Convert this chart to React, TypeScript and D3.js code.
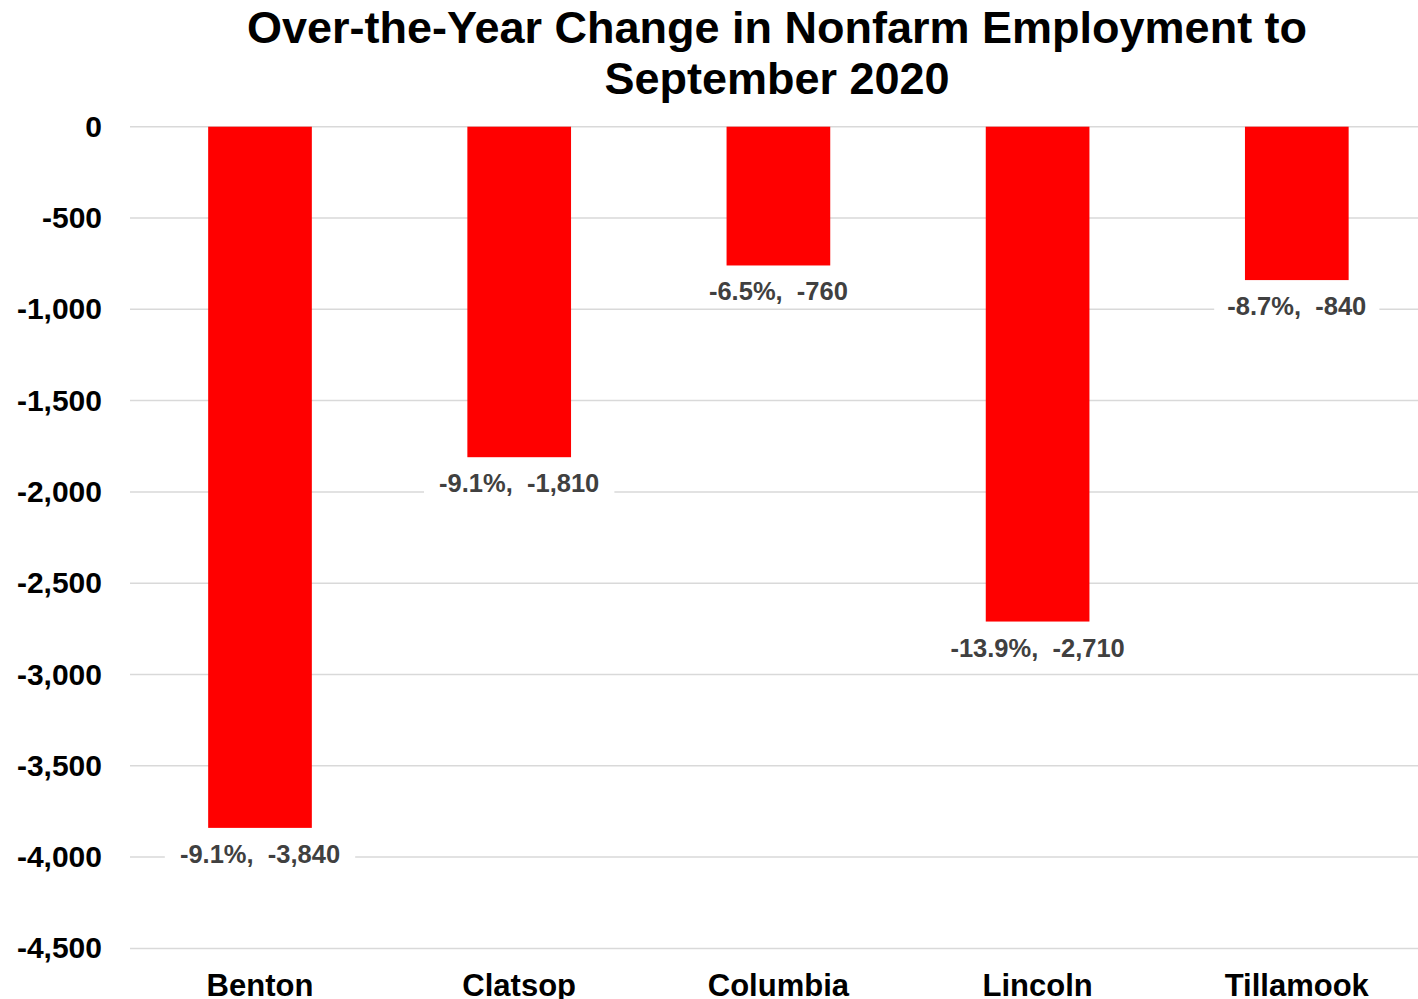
import React from "react";
import * as d3 from "d3";

const categories = ["Benton", "Clatsop", "Columbia", "Lincoln", "Tillamook"];
const changeValues = [-3840, -1810, -760, -2710, -840];
const percentChanges = ["-9.1%", "-9.1%", "-6.5%", "-13.9%", "-8.7%"];
const yTicks = [0, -500, -1000, -1500, -2000, -2500, -3000, -3500, -4000, -4500];
const titleLines = ["Over-the-Year Change in Nonfarm Employment to", "September 2020"];

const W = 1418;
const H = 999;
const FONT = "'Liberation Sans', Arial, sans-serif";

const fmtBase = d3.format(",");
const fmt = (v: number) => fmtBase(v).replace("\u2212", "-");

export default function App() {
  const x = d3
    .scaleBand<string>()
    .domain(categories)
    .range([130.4, 1426.4])
    .paddingInner(0.6)
    .paddingOuter(0.3);
  const y = d3.scaleLinear().domain([0, -4500]).range([126.7, 948.4]);

  return (
    <svg
      width={W}
      height={H}
      style={{ position: "absolute", left: 0, top: 0, background: "#fff" }}
      fontFamily={FONT}
    >
      <rect x={0} y={0} width={W} height={H} fill="#fff" />
      {titleLines.map((t, i) => (
        <text
          key={i}
          x={777}
          y={43 + i * 51}
          textAnchor="middle"
          fontSize={45}
          fontWeight="bold"
          fill="#000"
        >
          {t}
        </text>
      ))}
      {yTicks.map((t) => (
        <g key={t}>
          <line x1={130} x2={W} y1={y(t)} y2={y(t)} stroke="#d9d9d9" strokeWidth={1.5} />
          <text
            x={102}
            y={y(t) + 10}
            textAnchor="end"
            fontSize={30}
            fontWeight="bold"
            fill="#000"
          >
            {fmt(t)}
          </text>
        </g>
      ))}
      {categories.map((c, i) => {
        const v = changeValues[i];
        const bx = x(c)!;
        const bw = x.bandwidth();
        const cx = bx + bw / 2;
        const label = `${percentChanges[i]},\u00a0\u00a0${fmt(v)}`;
        const approxW = label.length * 12.6;
        return (
          <g key={c}>
            <rect x={bx} y={y(0)} width={bw} height={y(v) - y(0)} fill="#ff0000" />
            <rect
              x={cx - approxW / 2 - 7}
              y={y(v) + 12}
              width={approxW + 14}
              height={30}
              fill="#fff"
            />
            <text
              x={cx}
              y={y(v) + 35}
              textAnchor="middle"
              fontSize={25.5}
              fontWeight="bold"
              fill="#404040"
            >
              {label}
            </text>
            <text
              x={cx}
              y={996}
              textAnchor="middle"
              fontSize={31}
              fontWeight="bold"
              fill="#000"
            >
              {c}
            </text>
          </g>
        );
      })}
    </svg>
  );
}
